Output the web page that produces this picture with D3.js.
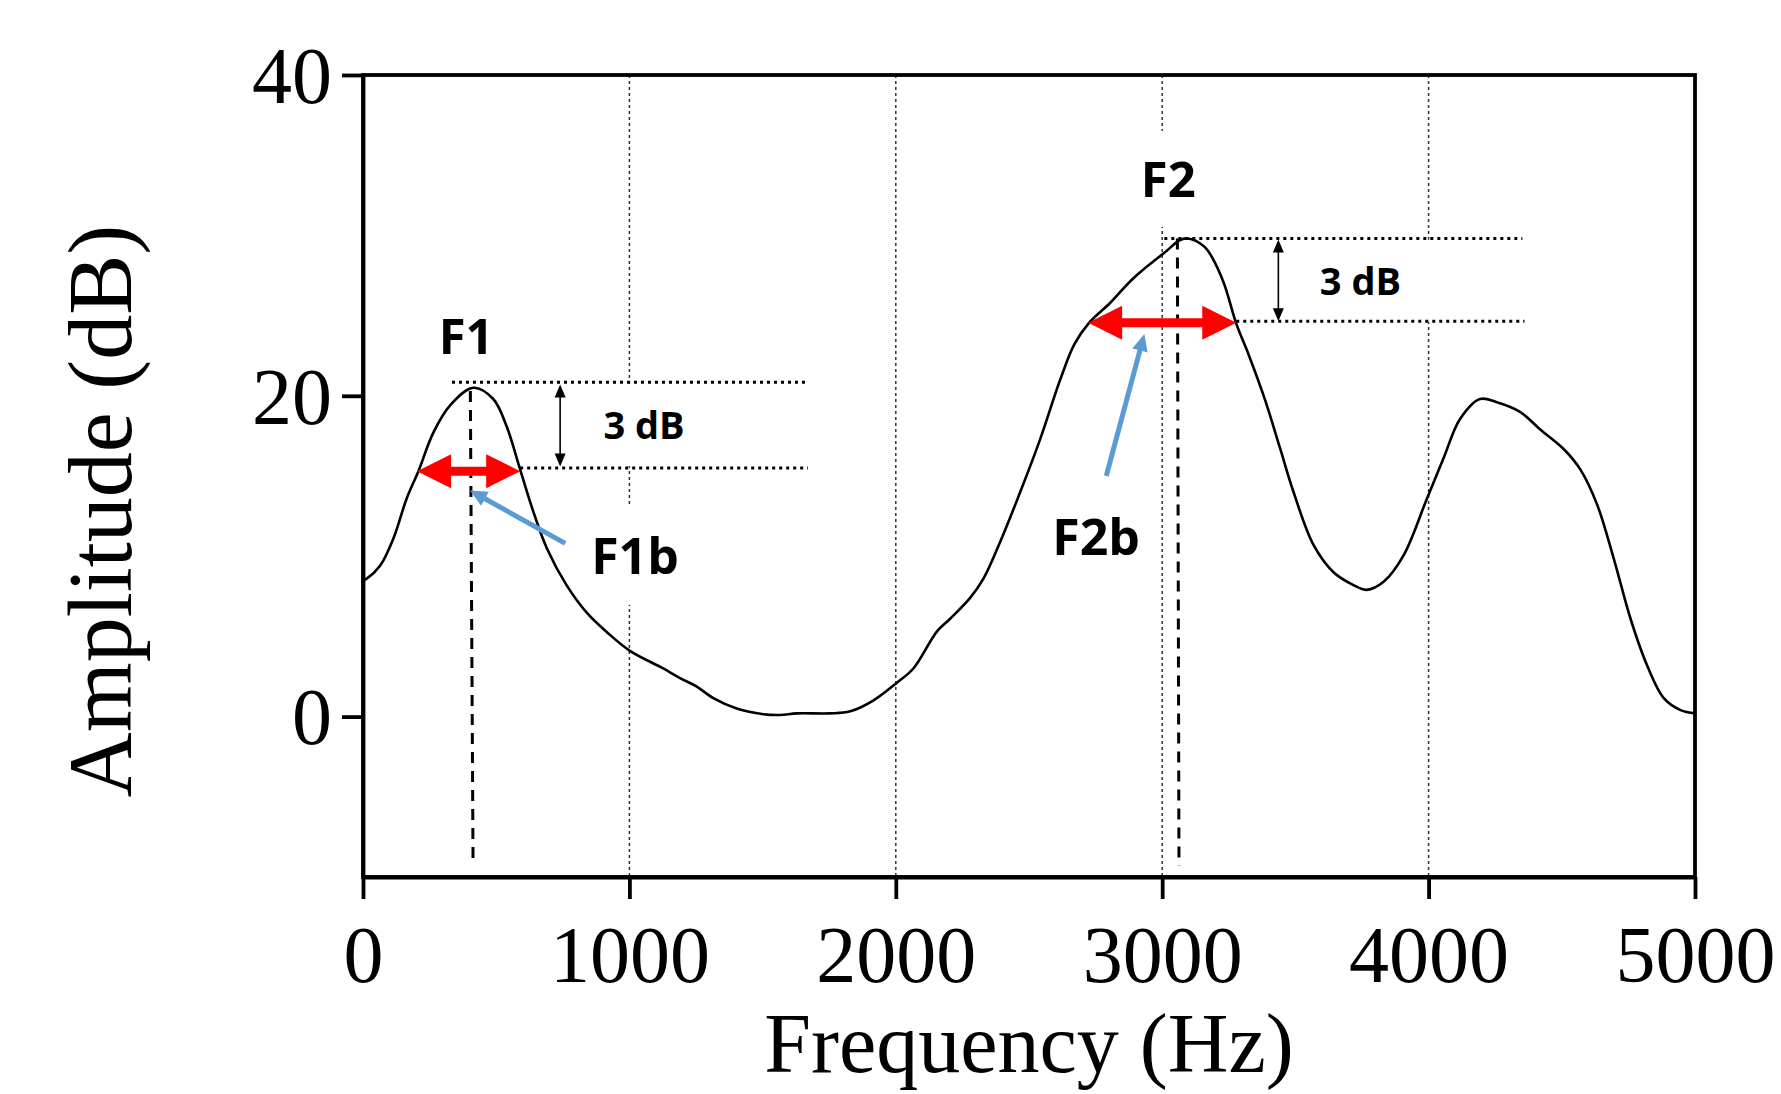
<!DOCTYPE html>
<html>
<head>
<meta charset="utf-8">
<script src="https://cdn.jsdelivr.net/npm/d3@7"></script>
<style>
  body { margin: 0; background: #fff; }
  svg { display: block; }
</style>
</head>
<body>
<div id="chart"></div>
<script>
// spectrum envelope
const freqHz = [0, 14, 64, 114, 164, 208, 264, 327, 414, 489, 539, 590, 640, 690, 764, 839, 920,
  1002, 1127, 1190, 1250, 1315, 1403, 1503, 1566, 1629, 1754, 1829, 1915, 2003, 2066, 2154, 2204,
  2279, 2329, 2392, 2467, 2542, 2617, 2670, 2723, 2805, 2890, 3007, 3082, 3158, 3225, 3278, 3326,
  3387, 3443, 3493, 3568, 3643, 3718, 3768, 3831, 3906, 3994, 4056, 4118, 4193,
  4256, 4343, 4419, 4506, 4570, 4633, 4695, 4758, 4820, 4883, 4946, 5000];
const ampDb = [8.5, 8.6, 9.4, 11.1, 13.6, 15.3, 17.7, 19.4, 20.5, 19.8, 18.1, 15.4, 12.75, 10.5, 8.2, 6.5, 5.2,
  4.1, 3.0, 2.4, 1.9, 1.15, 0.5, 0.15, 0.1, 0.2, 0.2, 0.33, 1.0, 2.1, 3.0, 5.3, 6.1,
  7.4, 8.6, 10.9, 14.0, 17.3, 21.0, 23.2, 24.5, 25.8, 27.3, 28.9, 29.8, 29.3, 27.3, 24.5, 22.5,
  19.7, 16.7, 14.0, 10.7, 9.0, 8.2, 7.9, 8.4, 10.05, 13.6, 16.1, 18.55, 19.8,
  19.6, 19.0, 17.9, 16.7, 15.4, 13.2, 9.85, 6.1, 3.2, 1.15, 0.4, 0.2];

const xTicks = [0, 1000, 2000, 3000, 4000, 5000];
const yTicks = [0, 20, 40];
const gridFreq = [1000, 2000, 3000, 4000];

// formant annotations (F1, F2)
const formantNames = ["F1", "F2"];
const formantLabelFreq = [387, 3023];
const formantLabelAmp = [22.6, 32.4];
const bandNames = ["F1b", "F2b"];
const bandLabelFreq = [1021, 2752];
const bandLabelAmp = [8.9, 10.07];
const dbText = ["3 dB", "3 dB"];
const dbLabelFreq = [1055, 3744];
const dbLabelAmp = [17.3, 26.3];

const peakLevel = [20.85, 29.8];
const peakLineStart = [334, 3008];
const peakLineEnd = [1667, 4352];
const halfLevel = [15.5, 24.65];
const halfLineStart = [590, 3278];
const halfLineEnd = [1670, 4360];

const bandLow = [203, 2722];
const bandHigh = [590, 3278];
const bandLevel = [15.3, 24.56];

const dbArrowFreq = [740, 3436];
const dbArrowTop = [20.7, 29.75];
const dbArrowBottom = [15.6, 24.65];

const peakTopFreq = [403, 3057];
const peakBottomFreq = [413, 3063];
const peakTopAmp = [20.3, 29.8];
const peakBottomAmp = [-8.9, -9.3];

const pointerTailFreq = [759, 2790];
const pointerTailAmp = [10.8, 15.0];
const pointerHeadFreq = [402, 2933];
const pointerHeadAmp = [14.1, 23.85];

const width = 1781, height = 1094;
const margin = { top: 75, right: 86, bottom: 217, left: 363 };

const svg = d3.select("#chart").append("svg")
  .attr("width", width)
  .attr("height", height);

const x = d3.scaleLinear().domain([0, 5000]).range([margin.left, width - margin.right]);
const y = d3.scaleLinear().domain([-10, 40]).range([height - margin.bottom, margin.top]);

// vertical dotted grid
svg.append("g").selectAll("line")
  .data(gridFreq)
  .join("line")
  .attr("x1", d => x(d)).attr("x2", d => x(d))
  .attr("y1", y(40)).attr("y2", y(-10))
  .attr("stroke", "#333")
  .attr("stroke-width", 1.5)
  .attr("stroke-dasharray", "3,3");

const boxLayer = svg.append("g");
const markLayer = svg.append("g");
const textLayer = svg.append("g");

// curve
const line = d3.line()
  .x((d, i) => x(freqHz[i]))
  .y(d => y(d))
  .curve(d3.curveCatmullRom.alpha(0.5));

markLayer.append("path")
  .datum(ampDb)
  .attr("d", line)
  .attr("fill", "none")
  .attr("stroke", "#000")
  .attr("stroke-width", 2.6);

// dotted level lines
const dotted = (f1, f2, a) => markLayer.append("line")
  .attr("x1", x(f1)).attr("x2", x(f2))
  .attr("y1", y(a)).attr("y2", y(a))
  .attr("stroke", "#000")
  .attr("stroke-width", 3)
  .attr("stroke-dasharray", "3,4");

formantNames.forEach((n, i) => {
  dotted(peakLineStart[i], peakLineEnd[i], peakLevel[i]);
  dotted(halfLineStart[i], halfLineEnd[i], halfLevel[i]);

  // dashed line under the peak
  markLayer.append("line")
    .attr("x1", x(peakTopFreq[i])).attr("x2", x(peakBottomFreq[i]))
    .attr("y1", y(peakTopAmp[i])).attr("y2", y(peakBottomAmp[i]))
    .attr("stroke", "#000")
    .attr("stroke-width", 3)
    .attr("stroke-dasharray", "11,8");
});

function arrow(x1, y1, x2, y2, shaft, headLen, headW, both) {
  const L = Math.hypot(x2 - x1, y2 - y1);
  const ux = (x2 - x1) / L, uy = (y2 - y1) / L;
  const nx = -uy, ny = ux;
  const p = (bx, by, k) => [bx + nx * k, by + ny * k];
  const b2x = x2 - ux * headLen, b2y = y2 - uy * headLen;
  let pts;
  if (both) {
    const b1x = x1 + ux * headLen, b1y = y1 + uy * headLen;
    pts = [[x1, y1], p(b1x, b1y, headW / 2), p(b1x, b1y, shaft / 2), p(b2x, b2y, shaft / 2),
      p(b2x, b2y, headW / 2), [x2, y2], p(b2x, b2y, -headW / 2), p(b2x, b2y, -shaft / 2),
      p(b1x, b1y, -shaft / 2), p(b1x, b1y, -headW / 2)];
  } else {
    pts = [p(x1, y1, shaft / 2), p(b2x, b2y, shaft / 2), p(b2x, b2y, headW / 2), [x2, y2],
      p(b2x, b2y, -headW / 2), p(b2x, b2y, -shaft / 2), p(x1, y1, -shaft / 2)];
  }
  return pts.map(q => q.join(",")).join(" ");
}

formantNames.forEach((n, i) => {
  // red bandwidth arrow
  markLayer.append("polygon")
    .attr("points", arrow(x(bandLow[i]), y(bandLevel[i]), x(bandHigh[i]), y(bandLevel[i]), 9, 34, 34, true))
    .attr("fill", "#ff0000");
  // small black 3 dB arrow
  markLayer.append("polygon")
    .attr("points", arrow(x(dbArrowFreq[i]), y(dbArrowTop[i]), x(dbArrowFreq[i]), y(dbArrowBottom[i]), 1.6, 13, 11, true))
    .attr("fill", "#000");
  // blue pointer
  markLayer.append("polygon")
    .attr("points", arrow(x(pointerTailFreq[i]), y(pointerTailAmp[i]), x(pointerHeadFreq[i]), y(pointerHeadAmp[i]), 5, 17, 16, false))
    .attr("fill", "#5b9bd5");
});

// labels, some with a white backing box that breaks the grid line
function label(txt, f, a, size, box) {
  const t = textLayer.append("text")
    .attr("x", x(f)).attr("y", y(a))
    .attr("text-anchor", "middle")
    .attr("font-family", "'Open Sans', sans-serif")
    .attr("font-weight", 700)
    .attr("font-size", size)
    .attr("fill", "#000")
    .text(txt);
  if (!box) return;
  const b = t.node().getBBox();
  boxLayer.append("rect")
    .attr("x", b.x - 32).attr("y", b.y - 14)
    .attr("width", b.width + 64).attr("height", b.height + 30)
    .attr("fill", "#fff");
}

formantNames.forEach((n, i) => {
  label(n, formantLabelFreq[i], formantLabelAmp[i], 49, i === 1);
  label(bandNames[i], bandLabelFreq[i], bandLabelAmp[i], 50, i === 0);
  label(dbText[i], dbLabelFreq[i], dbLabelAmp[i], 38, true);
});

// frame
svg.append("rect")
  .attr("x", x(0)).attr("y", y(40))
  .attr("width", x(5000) - x(0)).attr("height", y(-10) - y(40))
  .attr("fill", "none")
  .attr("stroke", "#000")
  .attr("stroke-width", 3.8);

// axes
const xAxis = svg.append("g")
  .attr("transform", `translate(0,${y(-10)})`)
  .call(d3.axisBottom(x).tickValues(xTicks).tickFormat(d3.format("d"))
    .tickSize(22).tickSizeOuter(0).tickPadding(0));
const yAxis = svg.append("g")
  .attr("transform", `translate(${x(0)},0)`)
  .call(d3.axisLeft(y).tickValues(yTicks).tickFormat(d3.format("d"))
    .tickSize(21).tickSizeOuter(0).tickPadding(0));

[xAxis, yAxis].forEach(g => {
  g.select(".domain").attr("stroke-width", 3.8);
  g.selectAll(".tick line").attr("stroke-width", 3.8);
  g.selectAll("text")
    .attr("font-family", "'Liberation Serif', 'Times New Roman', serif")
    .attr("font-size", 80)
    .attr("fill", "#000");
});
xAxis.selectAll("text").attr("y", 105).attr("dy", 0);
yAxis.selectAll("text").attr("x", -31).attr("dy", "0.34em");

// axis titles
svg.append("text")
  .attr("x", 1029).attr("y", 1072)
  .attr("text-anchor", "middle")
  .attr("font-family", "'Liberation Serif', 'Times New Roman', serif")
  .attr("font-size", 84)
  .text("Frequency (Hz)");

svg.append("text")
  .attr("transform", "translate(131,511) rotate(-90)")
  .attr("text-anchor", "middle")
  .attr("font-family", "'Liberation Serif', 'Times New Roman', serif")
  .attr("font-size", 90)
  .text("Amplitude (dB)");
</script>
</body>
</html>
